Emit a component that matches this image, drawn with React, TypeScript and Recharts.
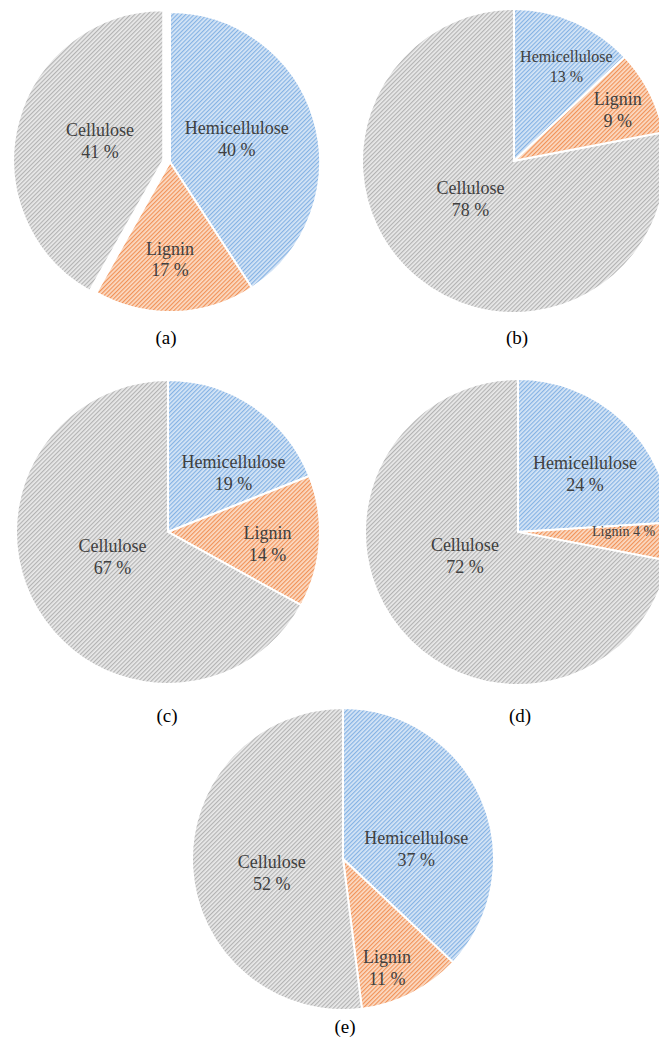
import React from 'react';
import { PieChart, Pie, Cell } from 'recharts';

const CATEGORIES = ['Hemicellulose', 'Lignin', 'Cellulose'];
const VALUES_A = [40, 17, 41];
const VALUES_B = [13, 9, 78];
const VALUES_C = [19, 14, 67];
const VALUES_D = [24, 4, 72];
const VALUES_E = [37, 11, 52];
const CAPTIONS = ['(a)', '(b)', '(c)', '(d)', '(e)'];

const FILLS = ['url(#hatchBlue)', 'url(#hatchOrange)', 'url(#hatchGray)'];
const FONT = "'Liberation Serif', 'Times New Roman', serif";
const TEXT = '#404040';

type LabelSpec = { ratio: number; angle: number; size: number; single?: boolean };
type Panel = {
  values: number[];
  cx: number;
  cy: number;
  r: number;
  captionX: number;
  captionY: number;
  explode?: number; // index of exploded slice
  labels: LabelSpec[];
};

const PANELS: Panel[] = [
  {
    values: VALUES_A, cx: 170, cy: 162, r: 150, captionX: 166, captionY: 338, explode: 2,
    labels: [
      { ratio: 0.47, angle: 71, size: 18 },
      { ratio: 0.65, angle: 180, size: 18 },
      { ratio: 0.44, angle: 287, size: 18 },
    ],
  },
  {
    values: VALUES_B, cx: 514, cy: 161, r: 152, captionX: 517, captionY: 338,
    labels: [
      { ratio: 0.71, angle: 29, size: 16 },
      { ratio: 0.76, angle: 64, size: 18 },
      { ratio: 0.38, angle: 229, size: 18 },
    ],
  },
  {
    values: VALUES_C, cx: 168, cy: 532, r: 152, captionX: 167, captionY: 716,
    labels: [
      { ratio: 0.58, angle: 48, size: 18 },
      { ratio: 0.66, angle: 97, size: 18 },
      { ratio: 0.4, angle: 246, size: 18 },
    ],
  },
  {
    values: VALUES_D, cx: 518, cy: 532, r: 153, captionX: 520, captionY: 716,
    labels: [
      { ratio: 0.58, angle: 49, size: 18 },
      { ratio: 0.69, angle: 89.5, size: 14, single: true },
      { ratio: 0.38, angle: 246, size: 18 },
    ],
  },
  {
    values: VALUES_E, cx: 343, cy: 859, r: 151, captionX: 345, captionY: 1027,
    labels: [
      { ratio: 0.49, angle: 82, size: 18 },
      { ratio: 0.78, angle: 158, size: 18 },
      { ratio: 0.48, angle: 259, size: 18 },
    ],
  },
];

const toData = (values: number[]) =>
  CATEGORIES.map((name, i) => ({ name, value: values[i] }));

function explodeOffset(values: number[], idx: number, dist: number) {
  const total = values.reduce((s, v) => s + v, 0);
  let before = 0;
  for (let i = 0; i < idx; i++) before += values[i];
  const midFrac = (before + values[idx] / 2) / total;
  const a = midFrac * 2 * Math.PI;
  return { dx: dist * Math.sin(a), dy: -dist * Math.cos(a) };
}

function makeLabel(panel: Panel, visible: (i: number) => boolean) {
  return (props: any) => {
    const { cx, cy, outerRadius, index, name, value } = props;
    if (!visible(index)) return null;
    const spec = panel.labels[index];
    const a = (spec.angle * Math.PI) / 180;
    const x = Number(cx) + spec.ratio * Number(outerRadius) * Math.sin(a);
    const y = Number(cy) - spec.ratio * Number(outerRadius) * Math.cos(a);
    if (spec.single) {
      return (
        <text key={`l${index}`} x={x} y={y} textAnchor="middle" dominantBaseline="central"
          fontFamily={FONT} fontSize={spec.size} fill={TEXT}>
          {`${name} ${value} %`}
        </text>
      );
    }
    const lh = spec.size * 1.22;
    return (
      <text key={`l${index}`} x={x} y={y} textAnchor="middle" fontFamily={FONT}
        fontSize={spec.size} fill={TEXT}>
        <tspan x={x} y={y - lh / 2} dominantBaseline="central">{name}</tspan>
        <tspan x={x} y={y + lh / 2} dominantBaseline="central">{`${value} %`}</tspan>
      </text>
    );
  };
}

function hatch(id: string, base: string, line: string) {
  return (
    <pattern id={id} width="3" height="3" patternUnits="userSpaceOnUse" patternTransform="rotate(45)">
      <rect width="3" height="3" fill={base} />
      <rect width="1.2" height="3" fill={line} />
    </pattern>
  );
}

export default function App() {
  const pies: React.ReactNode[] = [];
  PANELS.forEach((p, pi) => {
    const data = toData(p.values);
    if (p.explode === undefined) {
      pies.push(
        <Pie key={`p${pi}`} data={data} dataKey="value" nameKey="name" cx={p.cx} cy={p.cy}
          outerRadius={p.r} innerRadius={0} startAngle={90} endAngle={-270}
          stroke="#ffffff" strokeWidth={2} isAnimationActive={false} labelLine={false}
          label={makeLabel(p, () => true)}>
          {data.map((d, i) => <Cell key={d.name} fill={FILLS[i]} />)}
        </Pie>
      );
    } else {
      const ex = p.explode;
      const off = explodeOffset(p.values, ex, 7);
      pies.push(
        <Pie key={`p${pi}a`} data={data} dataKey="value" nameKey="name" cx={p.cx} cy={p.cy}
          outerRadius={p.r} innerRadius={0} startAngle={90} endAngle={-270}
          strokeWidth={2} isAnimationActive={false} labelLine={false}
          label={makeLabel(p, (i) => i !== ex)}>
          {data.map((d, i) => (
            <Cell key={d.name} fill={i === ex ? 'none' : FILLS[i]} stroke={i === ex ? 'none' : '#ffffff'} />
          ))}
        </Pie>
      );
      pies.push(
        <Pie key={`p${pi}b`} data={data} dataKey="value" nameKey="name" cx={p.cx + off.dx} cy={p.cy + off.dy}
          outerRadius={p.r} innerRadius={0} startAngle={90} endAngle={-270}
          strokeWidth={2} isAnimationActive={false} labelLine={false}
          label={makeLabel(p, (i) => i === ex)}>
          {data.map((d, i) => (
            <Cell key={d.name} fill={i === ex ? FILLS[i] : 'none'} stroke={i === ex ? '#ffffff' : 'none'} />
          ))}
        </Pie>
      );
    }
  });

  return (
    <div style={{ position: 'absolute', left: 0, top: 0, width: 659, height: 1044, background: '#ffffff', overflow: 'hidden' }}>
      <PieChart width={659} height={1044} margin={{ top: 0, right: 0, bottom: 0, left: 0 }}>
        <defs>
          {hatch('hatchBlue', '#D7E6F6', '#84B2E4')}
          {hatch('hatchOrange', '#FBDCC6', '#F19258')}
          {hatch('hatchGray', '#EAEAEA', '#B3B3B3')}
        </defs>
        {pies}
      </PieChart>
      {PANELS.map((p, i) => (
        <div key={CAPTIONS[i]} style={{
          position: 'absolute', left: p.captionX - 30, top: p.captionY - 12, width: 60,
          textAlign: 'center', fontFamily: FONT, fontSize: 19, lineHeight: '24px', color: '#000',
        }}>
          {CAPTIONS[i]}
        </div>
      ))}
    </div>
  );
}
